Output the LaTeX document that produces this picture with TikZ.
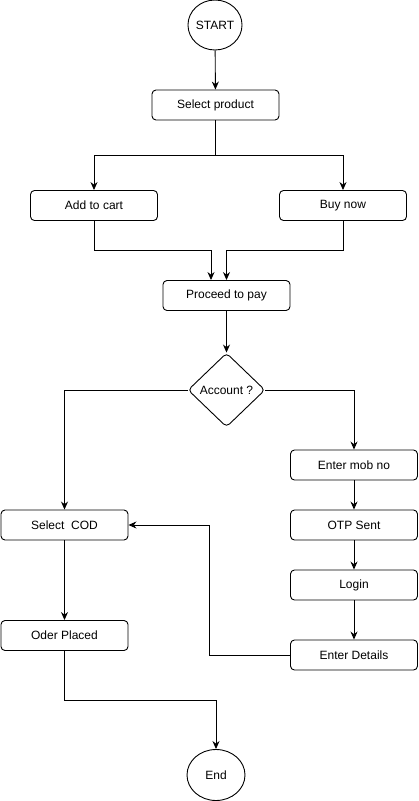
\documentclass[tikz,border=0pt]{standalone}
\usepackage{fontspec}
\setmainfont{Liberation Sans}
\usetikzlibrary{shapes.geometric,arrows.meta}
\begin{document}
\begin{tikzpicture}[x=1pt,y=-1pt,
  font=\fontsize{12}{14}\selectfont,
  box/.style={draw,line width=0.9pt,rounded corners=4pt,minimum width=127pt,minimum height=30pt,inner sep=0pt},
  term/.style={draw,line width=0.9pt,ellipse,inner sep=0pt},
  dec/.style={draw,line width=0.9pt,diamond,rounded corners=4pt,minimum width=77pt,minimum height=74pt,inner sep=0pt},
  arr/.style={line width=0.9pt,-{Stealth[length=8pt,width=7pt]}},
  ln/.style={line width=0.9pt}]
\useasboundingbox (0,0) rectangle (419,801);
\node[term,minimum width=50pt,minimum height=50pt] (start) at (215,25) {START};
\node[box] (sel) at (215.5,105) {Select product};
\node[box] (add) at (94,205.5) {Add to cart};
\node[box] (buy) at (343,205.5) {Buy now};
\node[box] (pay) at (226.5,295.5) {Proceed to pay};
\node[dec] (acc) at (226.5,390) {Account ?};
\node[box] (mob) at (354,465) {Enter mob no};
\node[box] (otp) at (354,525) {OTP Sent};
\node[box] (login) at (354,585) {Login};
\node[box] (det) at (354,655) {Enter Details};
\node[box] (cod) at (64.5,525) {Select\ \ COD};
\node[box] (oder) at (64.5,635.5) {Oder Placed};
\node[term,minimum width=58pt,minimum height=51pt] (end) at (216,775) {End};
\coordinate (split) at (215.5,155);
\coordinate (joinA) at (94,250);
\coordinate (joinB) at (343,250);
\coordinate (loop) at (209.5,655);
\coordinate (low) at (64.5,700);
\draw[arr] (start) -- (sel);
\draw[ln] (sel.south) -- (split);
\draw[arr] (split) -| (add.north);
\draw[arr] (split) -| (buy.north);
\draw[arr] (add.south) -- (joinA) -| ([xshift=-15.5pt]pay.north);
\draw[arr] (buy.south) -- (joinB) -| (pay.north);
\draw[arr] (pay) -- (acc);
\draw[arr] (acc.east) -| (mob.north);
\draw[arr] (acc.west) -| (cod.north);
\draw[arr] (mob) -- (otp);
\draw[arr] (otp) -- (login);
\draw[arr] (login) -- (det);
\draw[arr] (det.west) -- (loop) |- (cod.east);
\draw[arr] (cod) -- (oder);
\draw[arr] (oder.south) -- (low) -| (end.north);
\end{tikzpicture}
\end{document}
